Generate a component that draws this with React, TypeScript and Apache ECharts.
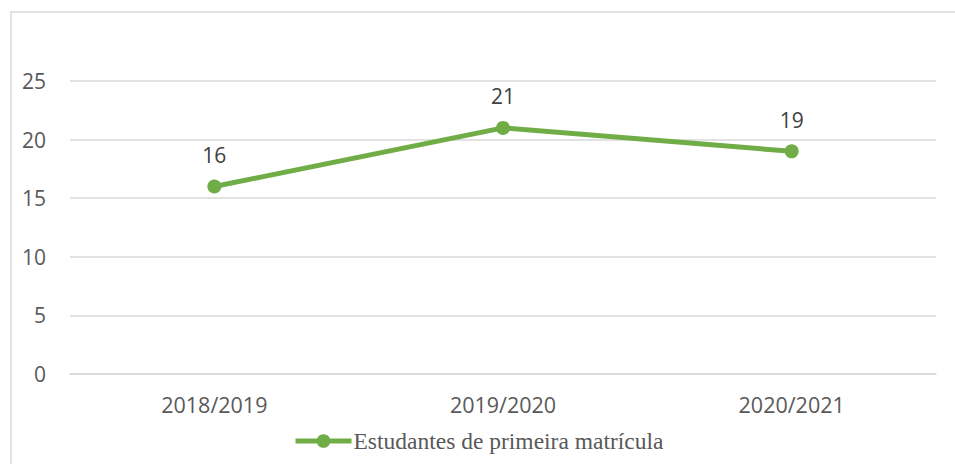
import React, { useEffect, useRef } from "react";
import * as echarts from "echarts";

const categories = ["2018/2019", "2019/2020", "2020/2021"];
const seriesName = "Estudantes de primeira matrícula";
const values = [16, 21, 19];

export default function App() {
  const ref = useRef<HTMLDivElement>(null);
  useEffect(() => {
    document.body.style.margin = "0";
    const chart = echarts.init(ref.current!, null, { renderer: "svg" });
    chart.setOption({
      animation: false,
      backgroundColor: "#ffffff",
      graphic: [
        {
          type: "rect",
          shape: { x: 11, y: 12, width: 960, height: 470 },
          style: { fill: "none", stroke: "#d9d9d9", lineWidth: 1.5 },
          silent: true,
        },
      ],
      grid: { left: 70, right: 19, top: 81, bottom: 90, containLabel: false },
      legend: {
        show: true,
        left: 288,
        top: 424,
        itemWidth: 56,
        itemHeight: 17,
        itemGap: 4,
        lineStyle: { width: 5 },
        textStyle: { fontFamily: "Liberation Serif", fontSize: 23.5, color: "#595959", padding: [0, 0, 0, -3] },
        data: [{ name: seriesName }],
      },
      xAxis: {
        type: "category",
        data: categories,
        boundaryGap: true,
        axisLine: { show: true, lineStyle: { color: "#d9d9d9", width: 1.5 } },
        axisTick: { show: false },
        axisLabel: { fontFamily: "Open Sans", fontSize: 21.5, color: "#595959", margin: 19 },
      },
      yAxis: {
        type: "value",
        min: 0,
        max: 25,
        interval: 5,
        axisLine: { show: false },
        axisTick: { show: false },
        splitLine: { lineStyle: { color: "#d9d9d9", width: 1.5 } },
        axisLabel: { fontFamily: "Open Sans", fontSize: 21, color: "#595959", margin: 24 },
      },
      series: [
        {
          name: seriesName,
          type: "line",
          data: values,
          symbol: "circle",
          symbolSize: 14,
          lineStyle: { color: "#70ad47", width: 5 },
          itemStyle: { color: "#70ad47" },
          label: {
            show: true,
            position: "top",
            distance: 14,
            fontFamily: "Open Sans",
            fontSize: 21,
            color: "#404040",
          },
        },
      ],
    });
    return () => chart.dispose();
  }, []);
  return <div ref={ref} style={{ width: 955, height: 464 }} />;
}
